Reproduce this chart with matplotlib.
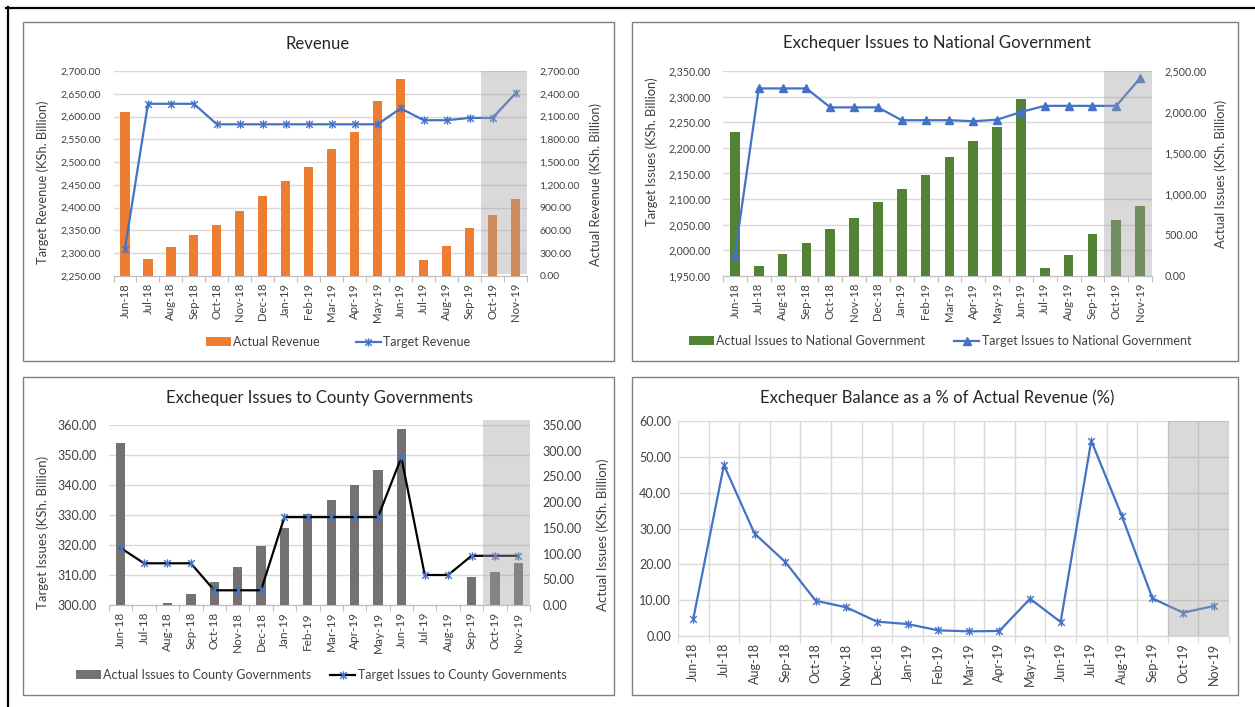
import matplotlib
matplotlib.use("Agg")
import matplotlib.pyplot as plt
from matplotlib.path import Path
from matplotlib.lines import Line2D
from matplotlib.patches import Rectangle, Patch
from matplotlib.ticker import FuncFormatter, FixedLocator
from matplotlib.transforms import blended_transform_factory

plt.rcParams['font.family'] = ['Lato', 'DejaVu Sans']

months = ['Jun-18', 'Jul-18', 'Aug-18', 'Sep-18', 'Oct-18', 'Nov-18', 'Dec-18',
          'Jan-19', 'Feb-19', 'Mar-19', 'Apr-19', 'May-19', 'Jun-19', 'Jul-19',
          'Aug-19', 'Sep-19', 'Oct-19', 'Nov-19']

rev_actual = [2162, 223, 381, 534, 678, 853, 1055, 1247, 1431, 1672, 1899, 2311,
              2595, 206, 389, 630, 801, 1020]
rev_target = [2310, 2628, 2628, 2628, 2583, 2583, 2583, 2583, 2583, 2583, 2583,
              2583, 2618, 2592, 2592, 2597, 2597, 2651]

nat_actual = [1750, 117, 267, 401, 571, 713, 904, 1062, 1232, 1451, 1649, 1815,
              2164, 93, 259, 515, 681, 855]
nat_target = [1991, 2316, 2316, 2316, 2279, 2279, 2279, 2254, 2254, 2254, 2252,
              2255, 2270, 2282, 2282, 2282, 2282, 2336]

cty_actual = [315, 0, 3.2, 22, 44, 73, 114, 149, 177, 204, 234, 262, 342, 0, 0,
              54, 65, 82]
cty_target = [319.0, 313.9, 313.9, 313.9, 304.9, 304.9, 304.9, 329.3, 329.3, 329.3,
              329.3, 329.3, 349.2, 310.0, 310.0, 316.4, 316.4, 316.4]

bal_pct = [4.83, 47.7, 28.6, 20.7, 9.84, 8.0, 4.0, 3.34, 1.58, 1.3, 1.4, 10.4,
           3.9, 54.5, 33.5, 10.5, 6.5, 8.36]

W, H = 1255, 707
fig = plt.figure(figsize=(W / 100, H / 100), dpi=100)

BLUE = '#4472C4'
GRID = '#D9D9D9'
TXT = '#404040'
SHADE = '#A0A0A0'
fmt = FuncFormatter(lambda v, p: f'{v:,.2f}')

star = Path([(-1, -1), (1, 1), (-1, 1), (1, -1), (0, -1.25), (0, 1.25)],
            [Path.MOVETO, Path.LINETO, Path.MOVETO, Path.LINETO, Path.MOVETO, Path.LINETO])


def fx(x):
    return x / W


def fy(y):
    return 1 - y / H


def ax_rect(x0, x1, y0, y1):
    return [fx(x0), fy(y1), fx(x1) - fx(x0), (y1 - y0) / H]


def panel_border(x0, y0, x1, y1):
    fig.add_artist(Rectangle((fx(x0), fy(y1)), fx(x1) - fx(x0), (y1 - y0) / H,
                             transform=fig.transFigure, fill=False,
                             edgecolor='#808080', lw=1.0))


def style_x(ax, fs):
    n = len(months)
    x = list(range(n))
    ax.set_xlim(-0.5, n - 0.5)
    ax.set_xticks(x)
    ax.set_xticklabels(months, rotation=90, fontsize=fs, color=TXT)
    ax.xaxis.set_minor_locator(FixedLocator([i - 0.5 for i in range(n + 1)]))
    ax.tick_params(axis='x', which='major', length=0, pad=5)
    ax.tick_params(axis='x', which='minor', length=4, color='#BFBFBF', width=0.8)
    for s in ['top', 'left', 'right']:
        ax.spines[s].set_visible(False)
    ax.spines['bottom'].set_color('#BFBFBF')
    ax.spines['bottom'].set_linewidth(0.9)


def combo(rect, actual, target, bar_color, line_color, marker, msize, mfc, mec,
          llim, lticks, rlim, rticks, fs_tick, fs_x, shade_y=(0, 1)):
    ax = fig.add_axes(rect)
    ax2 = ax.twinx()
    x = list(range(len(months)))
    ax.bar(x, actual, width=0.4, color=bar_color, zorder=3)
    ax.set_ylim(*rlim)
    ax.set_yticks(rticks)
    ax.yaxis.set_major_formatter(fmt)
    ax.yaxis.tick_right()
    ax.tick_params(axis='y', length=0, labelsize=fs_tick, labelcolor=TXT, pad=9)
    style_x(ax, fs_x)
    ax2.set_ylim(*llim)
    ax2.set_yticks(lticks)
    ax2.yaxis.set_major_formatter(fmt)
    ax2.yaxis.tick_left()
    ax2.tick_params(axis='y', length=0, labelsize=fs_tick, labelcolor=TXT, pad=9)
    for s in ['top', 'left', 'right', 'bottom']:
        ax2.spines[s].set_visible(False)
    tr = blended_transform_factory(ax.transAxes, ax2.transData)
    for v in lticks[1:]:
        ax.add_line(Line2D([0, 1], [v, v], transform=tr, color=GRID, lw=1.0, zorder=1))
    ax2.plot(x, target, color=line_color, lw=1.6, marker=marker, markersize=msize,
             markerfacecolor=mfc, markeredgecolor=mec, markeredgewidth=1.0, zorder=4)
    ax2.axvspan(15.5, 17.5, ymin=shade_y[0], ymax=shade_y[1], color=SHADE,
                alpha=0.4, lw=0, zorder=10, clip_on=False)
    ax2.set_xlim(-0.5, len(months) - 0.5)
    return ax, ax2


# ---------- Outer frame ----------
fig.add_artist(Line2D([fx(6), fx(1255)], [fy(8), fy(8)], transform=fig.transFigure,
                      color='black', lw=1.6))
fig.add_artist(Line2D([fx(7.5), fx(7.5)], [fy(7), fy(707)], transform=fig.transFigure,
                      color='black', lw=1.6))

panel_border(23, 22, 614, 361)
panel_border(632, 22, 1238, 361)
panel_border(23, 377, 614, 695)
panel_border(632, 377, 1238, 695)

TITLE_FS = 12
LEG_FS = 9

# ---------- Panel 1: Revenue ----------
ax1, ax1b = combo(ax_rect(113.5, 527, 71, 276), rev_actual, rev_target, '#ED7D31', BLUE,
                  star, 6, 'none', BLUE,
                  (2250, 2700), [2250 + 50 * i for i in range(10)],
                  (0, 2700), [300 * i for i in range(10)], 7.5, 8.2, shade_y=(0.012, 1))
fig.text(fx(318), fy(44), 'Revenue', ha='center', va='center', fontsize=TITLE_FS, color='#262626')
fig.text(fx(43), fy(182), 'Target Revenue (KSh. Billion)', rotation=90, ha='center',
         va='center', fontsize=9.3, color=TXT)
fig.text(fx(596), fy(184), 'Actual Revenue (KSh. Billion)', rotation=90, ha='center',
         va='center', fontsize=9.3, color=TXT)
h1 = [Patch(facecolor='#ED7D31'),
      Line2D([], [], color=BLUE, lw=1.6, marker=star, markersize=6, markerfacecolor='none',
             markeredgecolor=BLUE)]
fig.legend(h1, ['Actual Revenue', 'Target Revenue'], loc='center',
           bbox_to_anchor=(fx(338), fy(342)), ncol=2, frameon=False, fontsize=LEG_FS,
           handlelength=2.0, handletextpad=0.2, columnspacing=2.9, labelcolor=TXT)

# ---------- Panel 2: National Government ----------
ax2, ax2b = combo(ax_rect(723, 1152, 71, 276), nat_actual, nat_target, '#548235', BLUE,
                  '^', 6, BLUE, BLUE,
                  (1950, 2350), [1950 + 50 * i for i in range(9)],
                  (0, 2500), [500 * i for i in range(6)], 7.7, 8.2)
fig.text(fx(937), fy(43), 'Exchequer Issues to National Government', ha='center',
         va='center', fontsize=TITLE_FS, color='#262626')
fig.text(fx(652), fy(152), 'Target Issues (KSh. Billion)', rotation=90, ha='center',
         va='center', fontsize=9.3, color=TXT)
fig.text(fx(1221), fy(174), 'Actual Issues (KSh. Billion)', rotation=90, ha='center',
         va='center', fontsize=9.3, color=TXT)
h2 = [Patch(facecolor='#548235'),
      Line2D([], [], color=BLUE, lw=1.6, marker='^', markersize=6, markerfacecolor=BLUE,
             markeredgecolor=BLUE)]
fig.legend(h2, ['Actual Issues to National Government', 'Target Issues to National Government'],
           loc='center', bbox_to_anchor=(fx(940), fy(341)), ncol=2, frameon=False,
           fontsize=LEG_FS, handlelength=2.0, handletextpad=0.2, columnspacing=2.3,
           labelcolor=TXT)

# ---------- Panel 3: County Governments ----------
ax3, ax3b = combo(ax_rect(109, 530, 425, 605), cty_actual, cty_target, '#767171', 'black',
                  star, 6, 'none', BLUE,
                  (300, 360), [300 + 10 * i for i in range(7)],
                  (0, 350), [50 * i for i in range(8)], 9, 8.5, shade_y=(0, 1.028))
fig.text(fx(320), fy(398), 'Exchequer Issues to County Governments', ha='center',
         va='center', fontsize=TITLE_FS, color='#262626')
fig.text(fx(43), fy(532), 'Target Issues (KSh. Billion)', rotation=90, ha='center',
         va='center', fontsize=9.5, color=TXT)
fig.text(fx(603), fy(535), 'Actual Issues (KSh. Billion)', rotation=90, ha='center',
         va='center', fontsize=9.5, color=TXT)
h3 = [Patch(facecolor='#767171'),
      Line2D([], [], color='black', lw=1.6, marker=star, markersize=6, markerfacecolor='none',
             markeredgecolor=BLUE)]
fig.legend(h3, ['Actual Issues to County Governments', 'Target Issues to County Governments'],
           loc='center', bbox_to_anchor=(fx(321), fy(675)), ncol=2, frameon=False,
           fontsize=LEG_FS, handlelength=2.0, handletextpad=0.2, columnspacing=1.5,
           labelcolor=TXT)

# ---------- Panel 4: Balance % ----------
ax4 = fig.add_axes(ax_rect(678, 1229, 421, 636))
xs = list(range(len(months)))
ax4.plot(xs, bal_pct, color=BLUE, lw=1.6, marker=star, markersize=6,
         markerfacecolor='none', markeredgecolor=BLUE, markeredgewidth=1.0, zorder=4)
ax4.set_ylim(0, 60)
ax4.set_yticks([10 * i for i in range(7)])
ax4.yaxis.set_major_formatter(fmt)
ax4.tick_params(axis='y', length=0, labelsize=9, labelcolor=TXT, pad=5)
style_x(ax4, 9)
ax4.grid(axis='y', which='major', color=GRID, lw=1.0, zorder=0)
ax4.grid(axis='x', which='minor', color=GRID, lw=1.0, zorder=0)
ax4.set_axisbelow(True)
ax4.spines['bottom'].set_color(GRID)
ax4.tick_params(axis='x', which='minor', length=5, color=GRID)
ax4.axvspan(15.5, 17.5, color=SHADE, alpha=0.4, lw=0, zorder=10)
fig.text(fx(937), fy(398), 'Exchequer Balance as a % of Actual Revenue (%)', ha='center',
         va='center', fontsize=TITLE_FS, color='#262626')

fig.savefig('out.png', dpi=100)
